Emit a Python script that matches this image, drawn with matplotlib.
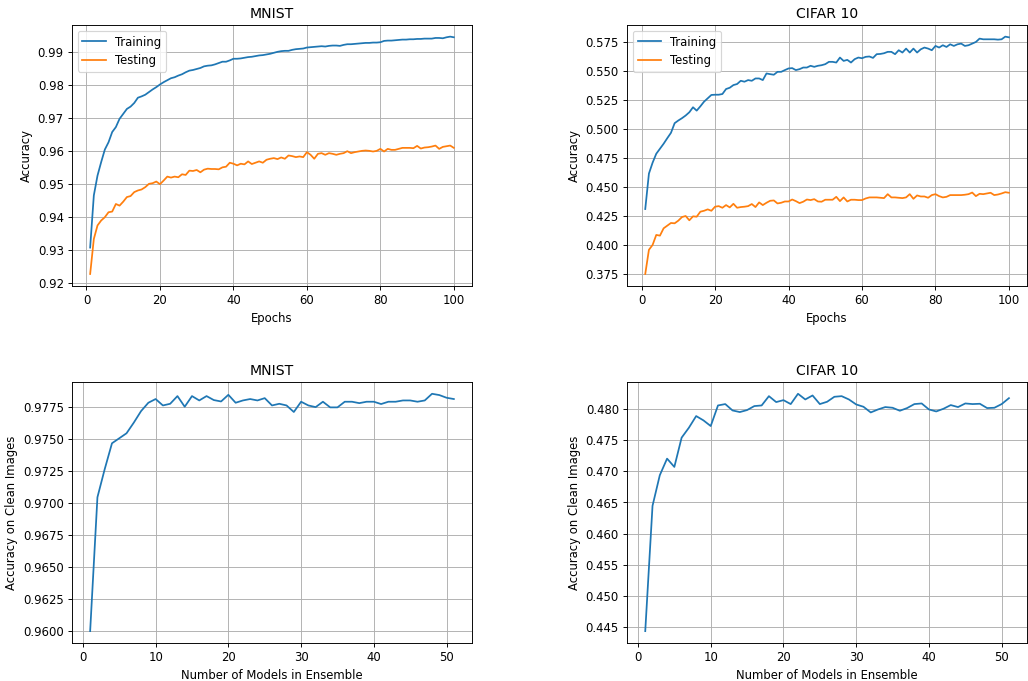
import numpy as np
import matplotlib
matplotlib.use("Agg")
import matplotlib.pyplot as plt

# training curves, epochs 1..100
epochs = list(range(1, 101))

mnist_train = [
    0.9308, 0.9466, 0.9526, 0.9567, 0.9605, 0.9627, 0.9658, 0.9673, 0.9698, 0.9713,
    0.9728, 0.9735, 0.9746, 0.9762, 0.9766, 0.9771, 0.9779, 0.9787, 0.9794, 0.9802,
    0.9809, 0.9815, 0.9821, 0.9824, 0.9829, 0.9833, 0.9839, 0.9844, 0.9846, 0.9849,
    0.9852, 0.9857, 0.9859, 0.9860, 0.9863, 0.9867, 0.9871, 0.9871, 0.9875, 0.9880,
    0.9880, 0.9881, 0.9883, 0.9885, 0.9886, 0.9888, 0.9890, 0.9891, 0.9893, 0.9895,
    0.9898, 0.9901, 0.9903, 0.9904, 0.9904, 0.9907, 0.9909, 0.9910, 0.9911, 0.9914,
    0.9915, 0.9916, 0.9917, 0.9918, 0.9917, 0.9919, 0.9920, 0.9920, 0.9919, 0.9922,
    0.9924, 0.9924, 0.9925, 0.9926, 0.9927, 0.9928, 0.9928, 0.9929, 0.9929, 0.9930,
    0.9934, 0.9935, 0.9935, 0.9936, 0.9937, 0.9938, 0.9938, 0.9939, 0.9939, 0.9940,
    0.9940, 0.9941, 0.9941, 0.9941, 0.9943, 0.9943, 0.9942, 0.9945, 0.9947, 0.9945,
]
mnist_test = [
    0.9228, 0.9334, 0.9375, 0.9390, 0.9400, 0.9415, 0.9417, 0.9440, 0.9435, 0.9447,
    0.9461, 0.9464, 0.9476, 0.9481, 0.9484, 0.9491, 0.9501, 0.9503, 0.9508, 0.9500,
    0.9511, 0.9523, 0.9520, 0.9523, 0.9521, 0.9530, 0.9528, 0.9541, 0.9540, 0.9543,
    0.9536, 0.9544, 0.9547, 0.9546, 0.9546, 0.9545, 0.9551, 0.9553, 0.9565, 0.9562,
    0.9557, 0.9562, 0.9560, 0.9569, 0.9561, 0.9565, 0.9569, 0.9565, 0.9574, 0.9577,
    0.9579, 0.9576, 0.9581, 0.9577, 0.9587, 0.9585, 0.9582, 0.9584, 0.9582, 0.9597,
    0.9589, 0.9577, 0.9592, 0.9594, 0.9589, 0.9594, 0.9592, 0.9589, 0.9592, 0.9594,
    0.9600, 0.9594, 0.9597, 0.9599, 0.9601, 0.9602, 0.9601, 0.9599, 0.9601, 0.9607,
    0.9599, 0.9607, 0.9604, 0.9604, 0.9607, 0.9610, 0.9610, 0.9610, 0.9609, 0.9616,
    0.9608, 0.9611, 0.9612, 0.9614, 0.9617, 0.9607, 0.9613, 0.9615, 0.9617, 0.9610,
]
cifar_train = [
    0.4309, 0.4614, 0.4708, 0.4785, 0.4828, 0.4871, 0.4919, 0.4965, 0.5048, 0.5071,
    0.5091, 0.5114, 0.5142, 0.5185, 0.5156, 0.5193, 0.5233, 0.5262, 0.5291, 0.5293,
    0.5293, 0.5299, 0.5342, 0.5353, 0.5376, 0.5385, 0.5413, 0.5405, 0.5419, 0.5413,
    0.5433, 0.5433, 0.5419, 0.5476, 0.5470, 0.5465, 0.5490, 0.5490, 0.5505, 0.5519,
    0.5522, 0.5505, 0.5513, 0.5527, 0.5527, 0.5542, 0.5533, 0.5542, 0.5547, 0.5556,
    0.5576, 0.5576, 0.5570, 0.5613, 0.5584, 0.5593, 0.5570, 0.5599, 0.5613, 0.5607,
    0.5619, 0.5622, 0.5610, 0.5642, 0.5644, 0.5650, 0.5662, 0.5662, 0.5642, 0.5676,
    0.5656, 0.5690, 0.5656, 0.5690, 0.5656, 0.5684, 0.5699, 0.5690, 0.5676, 0.5713,
    0.5699, 0.5719, 0.5704, 0.5727, 0.5713, 0.5727, 0.5733, 0.5713, 0.5719, 0.5733,
    0.5747, 0.5776, 0.5770, 0.5770, 0.5770, 0.5770, 0.5767, 0.5770, 0.5793, 0.5787,
]
cifar_test = [
    0.3750, 0.3958, 0.4000, 0.4086, 0.4080, 0.4143, 0.4166, 0.4189, 0.4186, 0.4209,
    0.4240, 0.4249, 0.4212, 0.4246, 0.4243, 0.4286, 0.4294, 0.4306, 0.4294, 0.4329,
    0.4334, 0.4320, 0.4343, 0.4323, 0.4354, 0.4320, 0.4326, 0.4329, 0.4334, 0.4352,
    0.4326, 0.4366, 0.4343, 0.4363, 0.4380, 0.4383, 0.4357, 0.4363, 0.4374, 0.4374,
    0.4391, 0.4377, 0.4360, 0.4372, 0.4391, 0.4386, 0.4394, 0.4374, 0.4372, 0.4389,
    0.4389, 0.4389, 0.4414, 0.4377, 0.4409, 0.4374, 0.4389, 0.4389, 0.4386, 0.4386,
    0.4400, 0.4409, 0.4409, 0.4409, 0.4406, 0.4403, 0.4437, 0.4409, 0.4409, 0.4406,
    0.4403, 0.4409, 0.4437, 0.4397, 0.4426, 0.4417, 0.4417, 0.4406, 0.4429, 0.4437,
    0.4420, 0.4409, 0.4414, 0.4429, 0.4429, 0.4429, 0.4429, 0.4432, 0.4437, 0.4451,
    0.4420, 0.4440, 0.4437, 0.4443, 0.4449, 0.4429, 0.4434, 0.4443, 0.4454, 0.4449,
]

# ensemble size 1..51
n_models = list(range(1, 52))

mnist_ens = [
    0.96000, 0.97044, 0.97263, 0.97465, 0.97504, 0.97543, 0.97626, 0.97716, 0.97781, 0.97810,
    0.97760, 0.97773, 0.97833, 0.97750, 0.97833, 0.97799, 0.97833, 0.97802, 0.97791, 0.97843,
    0.97781, 0.97799, 0.97810, 0.97799, 0.97817, 0.97760, 0.97773, 0.97760, 0.97709, 0.97789,
    0.97760, 0.97747, 0.97789, 0.97745, 0.97745, 0.97789, 0.97789, 0.97778, 0.97789, 0.97789,
    0.97771, 0.97789, 0.97789, 0.97799, 0.97799, 0.97789, 0.97799, 0.97851, 0.97841, 0.97820,
    0.97810,
]
cifar_ens = [
    0.44437, 0.46445, 0.46935, 0.47201, 0.47068, 0.47537, 0.47696, 0.47883, 0.47814, 0.47723,
    0.48053, 0.48075, 0.47973, 0.47947, 0.47979, 0.48043, 0.48053, 0.48202, 0.48107, 0.48138,
    0.48075, 0.48240, 0.48149, 0.48213, 0.48075, 0.48112, 0.48192, 0.48202, 0.48149, 0.48069,
    0.48032, 0.47941, 0.47989, 0.48027, 0.48016, 0.47968, 0.48011, 0.48075, 0.48085, 0.47989,
    0.47957, 0.48000, 0.48059, 0.48027, 0.48085, 0.48075, 0.48080, 0.48011, 0.48016, 0.48075,
    0.48170,
]

fig, axes = plt.subplots(2, 2, figsize=(12.24, 8.11), dpi=84)
fig.subplots_adjust(left=0.070, right=0.999, bottom=0.0558, top=0.9633,
                    wspace=0.3875, hspace=0.368)

# top row: training / testing accuracy
for ax, title, tr, te in [(axes[0, 0], "MNIST", mnist_train, mnist_test),
                          (axes[0, 1], "CIFAR 10", cifar_train, cifar_test)]:
    ax.plot(epochs, tr, label="Training")
    ax.plot(epochs, te, label="Testing")
    ax.set_title(title)
    ax.set_xlabel("Epochs")
    ax.set_ylabel("Accuracy")
    ax.legend(loc="upper left")
    ax.grid(True)

# bottom row: ensemble accuracy
for ax, title, ens in [(axes[1, 0], "MNIST", mnist_ens),
                       (axes[1, 1], "CIFAR 10", cifar_ens)]:
    ax.plot(n_models, ens)
    ax.set_title(title)
    ax.set_xlabel("Number of Models in Ensemble")
    ax.set_ylabel("Accuracy on Clean Images")
    ax.grid(True)

fig.savefig("out.png", dpi=84)
